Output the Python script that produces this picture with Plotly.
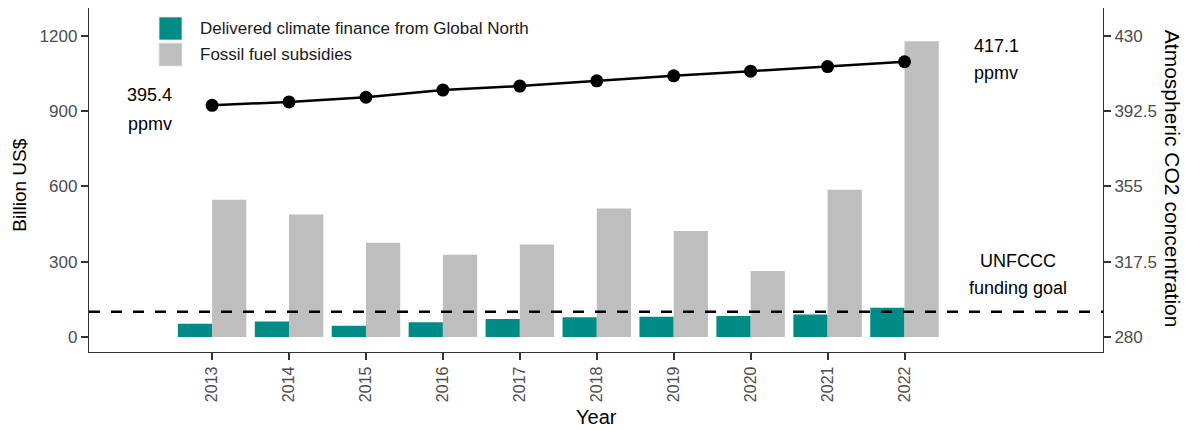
import plotly.graph_objects as go

years = [2013, 2014, 2015, 2016, 2017, 2018, 2019, 2020, 2021, 2022]
climate_finance = [52.4, 61.8, 44.6, 58.6, 71.2, 78.9, 80.4, 83.3, 89.6, 115.9]
fossil_subsidies = [547, 488, 375, 328, 368, 512, 422, 263, 587, 1178]
co2_ppmv = [395.4, 397.1, 399.4, 403.0, 405.0, 407.6, 410.1, 412.4, 414.7, 417.1]
funding_goal = 100
left_ticks = [0, 300, 600, 900, 1200]
right_ticks = [280, 317.5, 355, 392.5, 430]
series_names = ["Delivered climate finance from Global North", "Fossil fuel subsidies"]

TEAL = "#008B87"
GRAY = "#BEBEBE"
AX = "#333333"
TICKC = "#4D4D4D"
FONT = "Liberation Sans, Arial, sans-serif"

# the page body adds an 8px margin; compensate so the figure lands where the reference is
OFF = 8
W, H = 1195 - OFF, 430 - OFF
T_PX = 8.0
L, R, T, B = 89 - OFF, 1102.7 - OFF, T_PX - OFF, 351.7 - OFF
def px(x):
    return (x - OFF - L) / (R - L)
def py(y):
    return 1 - (y - OFF - T) / (B - T)

fig = go.Figure()
fig.add_trace(go.Bar(
    x=years, y=climate_finance, name=series_names[0], showlegend=False,
    marker=dict(color=TEAL, line=dict(width=0)), width=0.445, offset=-0.445,
))
fig.add_trace(go.Bar(
    x=years, y=fossil_subsidies, name=series_names[1], showlegend=False,
    marker=dict(color=GRAY, line=dict(width=0)), width=0.445, offset=0,
))
fig.add_trace(go.Scatter(
    x=years, y=co2_ppmv, yaxis="y2", mode="lines+markers", showlegend=False,
    line=dict(color="black", width=2.5), marker=dict(color="black", size=13),
))

fig.add_shape(type="line", xref="paper", x0=0, x1=1, yref="y", y0=funding_goal, y1=funding_goal,
              line=dict(color="black", width=2.5, dash="11px,11px"))

# custom legend
for i, (name, col) in enumerate(zip(series_names, [TEAL, GRAY])):
    y0 = 17 + i * 26
    fig.add_shape(type="rect", xref="paper", yref="paper",
                  x0=px(159), x1=px(182), y0=py(y0), y1=py(y0 + 23),
                  fillcolor=col, line=dict(width=0.8, color="#E8E8E8"))
    fig.add_annotation(xref="paper", yref="paper", x=px(198), y=py(y0 + 11.5), text=name,
                       showarrow=False, xanchor="left", yanchor="middle",
                       font=dict(size=17, color="#1A1A1A", family=FONT))

# value labels at the CO2 line ends
ann_font = dict(size=18, color="black", family=FONT)
labels = [
    (2012.19, co2_ppmv[0], f"{co2_ppmv[0]:.1f}", 10.3),
    (2012.19, co2_ppmv[0], "ppmv", -18.7),
    (2023.19, co2_ppmv[-1], f"{co2_ppmv[-1]:.1f}", 16),
    (2023.19, co2_ppmv[-1], "ppmv", -11.6),
]
for x, y, t, ys in labels:
    fig.add_annotation(x=x, y=y, yref="y2", text=t, showarrow=False, yshift=ys,
                       xanchor="center", yanchor="middle", font=ann_font)
fig.add_annotation(x=2023.48, y=funding_goal, yref="y", text="UNFCCC", showarrow=False,
                   yshift=50.7, xanchor="center", yanchor="middle", font=ann_font)
fig.add_annotation(x=2023.48, y=funding_goal, yref="y", text="funding goal", showarrow=False,
                   yshift=23.4, xanchor="center", yanchor="middle", font=ann_font)

# axis titles
fig.add_annotation(xref="paper", yref="paper", x=px(19.5), y=py(185), text="Billion US$",
                   showarrow=False, textangle=-90, xanchor="center", yanchor="middle",
                   font=dict(size=19, color="black", family=FONT))
fig.add_annotation(xref="paper", yref="paper", x=px(1173), y=py(179), text="Atmospheric CO2 concentration",
                   showarrow=False, textangle=90, xanchor="center", yanchor="middle",
                   font=dict(size=21, color="black", family=FONT))
fig.add_annotation(xref="paper", yref="paper", x=px(596), y=py(417), text="Year",
                   showarrow=False, xanchor="center", yanchor="middle",
                   font=dict(size=20, color="black", family=FONT))

fig.update_layout(
    width=W, height=H,
    margin=dict(l=L, r=W - R, t=T, b=H - B, autoexpand=False),
    plot_bgcolor="white", paper_bgcolor="white",
    font=dict(family=FONT, color=TICKC),
    barmode="overlay",
    showlegend=False,
    xaxis=dict(range=[2011.4, 2024.58], tickvals=years, ticktext=[str(y) for y in years],
               tickangle=-90, ticks="outside", ticklen=7, tickwidth=1.6, tickcolor=AX,
               showline=True, linecolor=AX, linewidth=1.3, mirror=True, showgrid=False,
               zeroline=False, tickfont=dict(size=16, color=TICKC), automargin=False),
    yaxis=dict(range=[-60, 1311], tickvals=left_ticks, ticks="outside", ticklen=7, tickwidth=1.6,
               tickcolor=AX, showline=True, linecolor=AX, linewidth=1.3, mirror=True, showgrid=False,
               zeroline=False, tickfont=dict(size=17, color=TICKC), automargin=False),
    yaxis2=dict(range=[272.5, 443.875], tickvals=right_ticks, ticktext=["280", "317.5", "355", "392.5", "430"],
                overlaying="y", side="right", ticks="outside", ticklen=7, tickwidth=1.6, tickcolor=AX,
                showline=False, showgrid=False, zeroline=False, tickfont=dict(size=17, color=TICKC),
                automargin=False),
)

fig.write_html("out.html")
